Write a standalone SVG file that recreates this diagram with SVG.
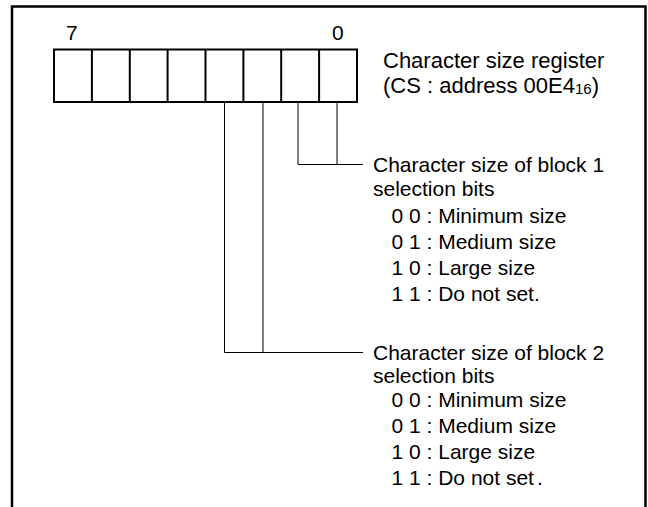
<svg xmlns="http://www.w3.org/2000/svg" width="648" height="507" viewBox="0 0 648 507">
<style>
text{font-family:"Liberation Sans",Arial,sans-serif;font-size:21px;fill:#000}
.title{font-size:22px}
.cell{fill:#fff;stroke:#000;stroke-width:2}
.frame{fill:none;stroke:#000;stroke-width:2.5}
.conn{fill:none;stroke:#000;stroke-width:1}
.sub{font-size:15px}
</style>
<rect width="648" height="507" fill="#fff"/>
<path class="frame" d="M12 507V6.5H645.5V507"/>
<g id="register">
<rect class="cell" x="54" y="49.5" width="303" height="52.5"/>
<path class="cell" d="M91.9 49.5V102M129.8 49.5V102M167.6 49.5V102M205.5 49.5V102M243.4 49.5V102M281.2 49.5V102M319.1 49.5V102"/>
<text x="66" y="40">7</text>
<text x="332" y="40">0</text>
<text class="title" x="383" y="68">Character size register</text>
<text class="title" x="383" y="93">(CS : address 00E4<tspan class="sub" dy="1">16</tspan><tspan dy="-1">)</tspan></text>
</g>
<g id="connectors">
<path class="conn" d="M298 102V164.5H363M337 102V164.5"/>
<path class="conn" d="M224.5 102V352.5H363M263 102V352.5"/>
</g>
<g id="block1">
<text x="373" y="172">Character size of block 1</text>
<text x="373" y="196">selection bits</text>
<text x="391.5" y="223">0 0 : Minimum size</text>
<text x="391.5" y="249">0 1 : Medium size</text>
<text x="391.5" y="275">1 0 : Large size</text>
<text x="391.5" y="301">1 1 : Do not set.</text>
</g>
<g id="block2">
<text x="373" y="360">Character size of block 2</text>
<text x="373" y="383">selection bits</text>
<text x="391.5" y="407">0 0 : Minimum size</text>
<text x="391.5" y="433">0 1 : Medium size</text>
<text x="391.5" y="459">1 0 : Large size</text>
<text x="391.5" y="485">1 1 : Do not set<tspan dx="3">.</tspan></text>
</g>
</svg>
